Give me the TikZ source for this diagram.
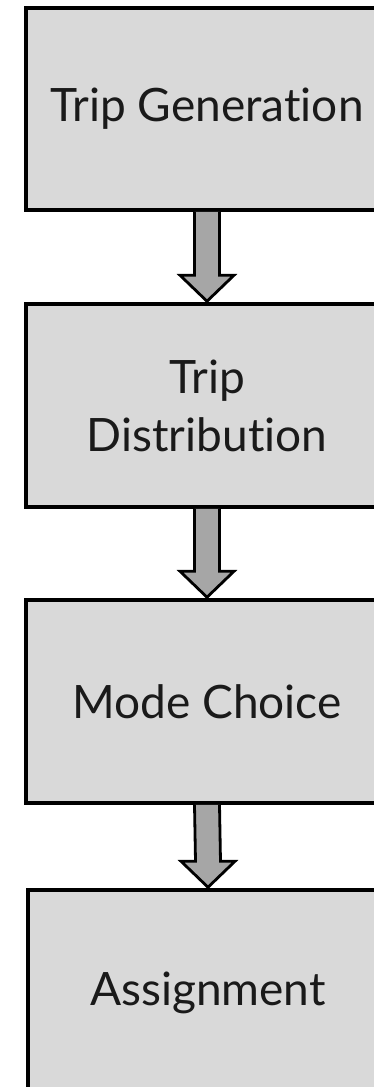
\documentclass[tikz,border=0pt]{standalone}
\usepackage{fontspec}
\setmainfont{Lato}[Ligatures={NoCommon}]
\usetikzlibrary{calc}
\definecolor{boxfill}{HTML}{D9D9D9}
\definecolor{arrfill}{HTML}{A6A6A6}
\definecolor{txt}{HTML}{1A1A1A}
\tikzset{
  stagebox/.style={draw=black, line width=3.5pt, fill=boxfill, inner sep=0pt,
    text=txt, font=\fontsize{46}{58}\selectfont, align=center},
  fatarrow/.style={draw=black, line width=2.8pt, fill=arrfill, line join=miter},
}
\newcommand{\fatarr}[2]{%
  \draw[fatarrow] ($(#1.south)+(-12.5,0)$) -- ($(#2.north)+(-12.5,-27)$) -- ($(#2.north)+(-27,-27)$)
    -- ($(#2.north)+(0,-1)$) -- ($(#2.north)+(27,-27)$) -- ($(#2.north)+(12.5,-27)$)
    -- ($(#1.south)+(12.5,0)$);}
\begin{document}
\begin{tikzpicture}[x=1pt,y=-1pt]
\useasboundingbox (0,0) rectangle (374,1087);
\clip (0,0) rectangle (374,1087);
\node[stagebox, minimum width=362pt, minimum height=202pt] (b1) at (207,109) {Trip Generation};
\node[stagebox, minimum width=362pt, minimum height=203pt] (b2) at (207,405.5) {Trip\\Distribution};
\node[stagebox, minimum width=362pt, minimum height=203pt] (b3) at (207,701.5) {Mode Choice};
\node[stagebox, minimum width=360pt, minimum height=206pt] (b4) at (208,993) {Assignment};
\fatarr{b1}{b2}
\fatarr{b2}{b3}
\fatarr{b3}{b4}
\end{tikzpicture}
\end{document}
